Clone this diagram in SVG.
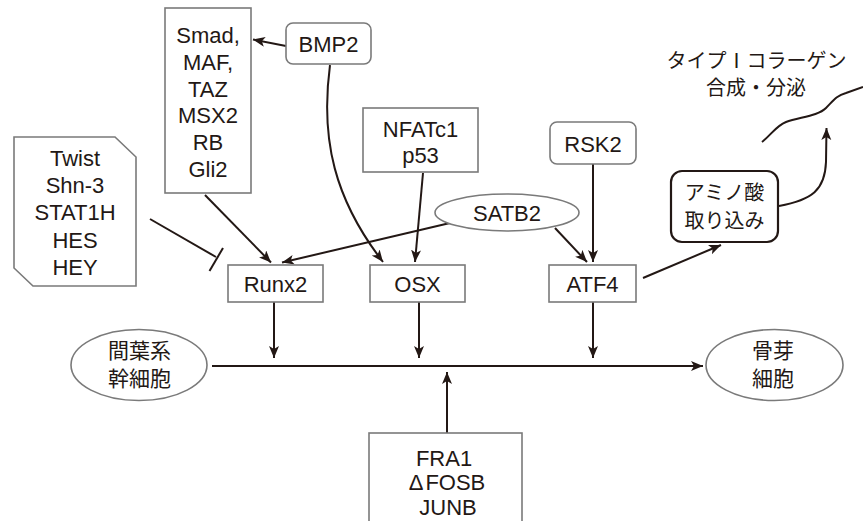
<svg xmlns="http://www.w3.org/2000/svg" width="863" height="521" viewBox="0 0 863 521">
<style>
.box{fill:#fff;stroke:#7a7a7a;stroke-width:1.6}
.bold{fill:#fff;stroke:#231815;stroke-width:2.2}
.t{font-family:"Liberation Sans",Arial,sans-serif;font-size:22px;fill:#231815;text-anchor:middle}
.j{font-family:"Noto Sans CJK JP","Noto Sans CJK SC",sans-serif;font-size:21px;fill:#231815;text-anchor:middle}
.c{fill:none;stroke:#231815;stroke-width:2}
</style>
<defs>
<marker id="ah" markerUnits="userSpaceOnUse" markerWidth="14" markerHeight="12" refX="12" refY="5" orient="auto">
<path d="M0,0 L12,5 L0,10 L3,5 z" fill="#231815"/>
</marker>
</defs>
<rect width="863" height="521" fill="#fff"/>
<g id="connectors">
<path class="c" d="M286,46 L253,39.5" marker-end="url(#ah)"/>
<path class="c" d="M330,65 C320,140 335,200 383,262" marker-end="url(#ah)"/>
<path class="c" d="M423,173 L415,262" marker-end="url(#ah)"/>
<path class="c" d="M593,164 L593,262" marker-end="url(#ah)"/>
<path class="c" d="M450,223 L282,262.5" marker-end="url(#ah)"/>
<path class="c" d="M555,228 L587,262" marker-end="url(#ah)"/>
<path class="c" d="M205,195 L271,262.5" marker-end="url(#ah)"/>
<path class="c" d="M150,219 L216,257"/>
<path class="c" d="M223,248 L209.5,271"/>
<path class="c" d="M274,302 L274,358" marker-end="url(#ah)"/>
<path class="c" d="M419,302 L419,358" marker-end="url(#ah)"/>
<path class="c" d="M593,302 L593,358" marker-end="url(#ah)"/>
<path class="c" d="M212,366 L703,366" marker-end="url(#ah)"/>
<path class="c" d="M447,433 L447,372" marker-end="url(#ah)"/>
<path class="c" d="M643,278 L721,245" marker-end="url(#ah)"/>
<path class="c" d="M779,206 C812,200 825,190 826,162 L826.5,128" marker-end="url(#ah)"/>
<path class="c" d="M762,142 C772,134 776,126 786,122 C800,117 818,116 826,108 C834,100 836,96 846,93 L863,87"/>
</g>
<g id="smad">
<rect class="box" x="165" y="8" width="86" height="185"/>
<text class="t" x="208" y="43">Smad,</text>
<text class="t" x="208" y="70">MAF,</text>
<text class="t" x="208" y="97">TAZ</text>
<text class="t" x="208" y="123">MSX2</text>
<text class="t" x="208" y="150">RB</text>
<text class="t" x="208" y="177">Gli2</text>
</g>
<g id="bmp2">
<rect class="box" x="286" y="23" width="85" height="41" rx="7"/>
<text class="t" x="328.5" y="52">BMP2</text>
</g>
<g id="twist">
<polygon class="box" points="14,137 115,137 136,157 136,286 33,286 14,268"/>
<text class="t" x="75" y="166">Twist</text>
<text class="t" x="75" y="193">Shn-3</text>
<text class="t" x="75" y="220">STAT1H</text>
<text class="t" x="75" y="248">HES</text>
<text class="t" x="75" y="275">HEY</text>
</g>
<g id="nfatc1">
<rect class="box" x="363" y="108" width="115" height="64"/>
<text class="t" x="420.5" y="137">NFATc1</text>
<text class="t" x="420.5" y="163">p53</text>
</g>
<g id="rsk2">
<rect class="box" x="550" y="122" width="86" height="42" rx="7"/>
<text class="t" x="593" y="152">RSK2</text>
</g>
<g id="satb2">
<ellipse class="box" cx="507" cy="212.5" rx="72" ry="18.5"/>
<text class="t" x="507" y="221">SATB2</text>
</g>
<g id="runx2">
<rect class="box" x="228" y="265" width="95" height="37"/>
<text class="t" x="275.5" y="292">Runx2</text>
</g>
<g id="osx">
<rect class="box" x="370" y="265" width="95" height="37"/>
<text class="t" x="417.5" y="292">OSX</text>
</g>
<g id="atf4">
<rect class="box" x="549" y="265" width="87" height="37"/>
<text class="t" x="592.5" y="292">ATF4</text>
</g>
<g id="amino">
<rect class="bold" x="671" y="171" width="107" height="71" rx="11"/>
<text class="j" style="font-size:20px" x="724.5" y="200">アミノ酸</text>
<text class="j" style="font-size:20px" x="724.5" y="228">取り込み</text>
</g>
<g id="collagen">
<text class="j" style="font-size:20px" x="756.5" y="68">タイプⅠコラーゲン</text>
<text class="j" style="font-size:20px" x="756" y="95">合成・分泌</text>
</g>
<g id="msc">
<ellipse class="box" cx="139" cy="365" rx="68" ry="35.5"/>
<text class="j" x="139.5" y="358">間葉系</text>
<text class="j" x="139.5" y="386">幹細胞</text>
</g>
<g id="osteoblast">
<ellipse class="box" cx="774.5" cy="365" rx="68.5" ry="35.5"/>
<text class="j" x="773" y="358">骨芽</text>
<text class="j" x="773" y="386">細胞</text>
</g>
<g id="fra1">
<rect class="box" x="369" y="433" width="153" height="100"/>
<text class="t" x="444" y="466">FRA1</text>
<text class="t" x="447" y="490">Δ<tspan dx="2">FOSB</tspan></text>
<text class="t" x="448" y="515">JUNB</text>
</g>
</svg>
